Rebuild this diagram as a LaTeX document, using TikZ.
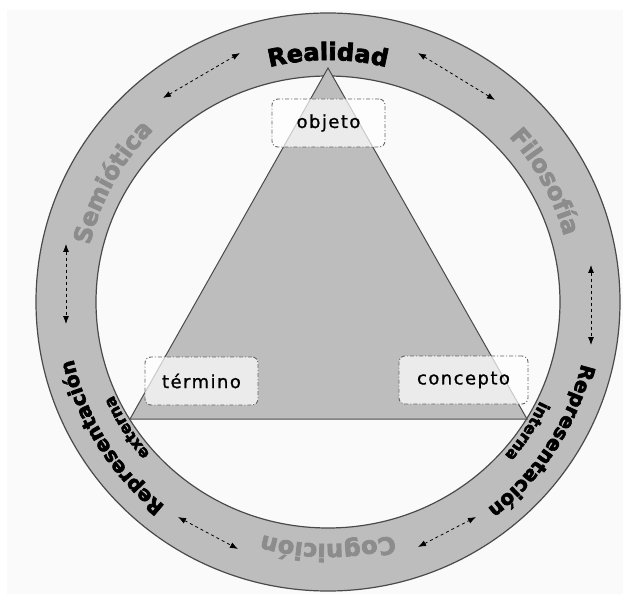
\documentclass[tikz,border=0pt]{standalone}
\usepackage{fontspec}
\usetikzlibrary{arrows.meta,decorations.text}
\newfontfamily\heavyfont{DejaVu Sans}[BoldFeatures={FakeBold=3}]
\newfontfamily\boxfont{DejaVu Sans}[LetterSpace=8, FakeBold=1]
\definecolor{ringgray}{HTML}{BDBDBD}
\definecolor{labelgray}{HTML}{8C8C8C}
\definecolor{edgegray}{HTML}{4A4A4A}
\definecolor{paper}{HTML}{FAFAFA}

\begin{document}
\begin{tikzpicture}[x=1pt,y=1pt,
    ringline/.style={draw=edgegray, line width=1.2pt},
    termbox/.style={draw=gray!80!black, line width=0.9pt,
      dash pattern=on 4pt off 2pt on 1pt off 2pt, rounded corners=6pt,
      fill=white, fill opacity=0.7, text opacity=1,
      font=\boxfont\fontsize{18}{18}\selectfont, minimum height=48pt},
    dbl/.style={dashed, line width=0.8pt,
      {Latex[length=8pt,width=6pt]}-{Latex[length=8pt,width=6pt]}},
    biglabel/.style={decorate, decoration={text along path, text align=center,
      text={|\heavyfont\bfseries\fontsize{24}{24}\selectfont|#1}}},
    graylabel/.style={biglabel=#1, decoration={text color=labelgray}},
    midlabel/.style={decorate, decoration={text along path, text align=center,
      text={|\heavyfont\bfseries\fontsize{20}{20}\selectfont|#1}}},
    smalllabel/.style={decorate, decoration={text along path, text align=center,
      text={|\heavyfont\bfseries\fontsize{16}{16}\selectfont|#1}}},
]
\useasboundingbox (-328,-292) rectangle (295,302);
\fill[paper] (-321,-292) rectangle (295,292);

% ring
\fill[ringgray, even odd rule] (0,0) ellipse [x radius=292pt, y radius=289pt]
  (0,0) ellipse [x radius=232pt, y radius=226pt];
\draw[ringline] (0,0) ellipse [x radius=292pt, y radius=289pt];
\draw[ringline] (0,0) ellipse [x radius=232pt, y radius=226pt];

% triangle
\coordinate (top) at (0,234);
\coordinate (left) at (-198,-117);
\coordinate (right) at (199,-117);
\draw[fill=ringgray, draw=edgegray, line width=1pt] (top) -- (left) -- (right) -- cycle;

\node[termbox, minimum width=113pt] (obj) at (0.5,179) {objeto};
\node[termbox, minimum width=113pt] (term) at (-126.5,-79) {término};
\node[termbox, minimum width=129pt] (conc) at (135.5,-78) {concepto};

% labels on the ring
\path[biglabel=Realidad] (130:242) arc[start angle=130, end angle=50, radius=242pt];
\path[graylabel=Filosofía] (69:245) arc[start angle=69, end angle=-11, radius=245pt];
\path[graylabel=Semiótica] (191:245) arc[start angle=191, end angle=111, radius=245pt];
\path[graylabel=Cognición] (310:242) arc[start angle=310, end angle=230, radius=242pt];
\path[midlabel=Representación] (262:261) arc[start angle=262, end angle=162, radius=261pt];
\path[smalllabel=externa] (252:234) arc[start angle=252, end angle=172, radius=234pt];
\path[midlabel=Representación] (377:261) arc[start angle=377, end angle=277, radius=261pt];
\path[smalllabel=interna] (367:234) arc[start angle=367, end angle=287, radius=234pt];

% arrows
\coordinate (tl1) at (-165,204);  \coordinate (tl2) at (-88,249);
\coordinate (tr1) at (90,249);    \coordinate (tr2) at (167,202);
\coordinate (l1) at (-262,58);    \coordinate (l2) at (-262,-22);
\coordinate (r1) at (263,37);     \coordinate (r2) at (263,-43);
\coordinate (bl1) at (-150,-215); \coordinate (bl2) at (-90,-247);
\coordinate (br1) at (90,-245);   \coordinate (br2) at (148,-215);
\foreach \a/\b in {tl1/tl2, tr1/tr2, l1/l2, r1/r2, bl1/bl2, br1/br2}
  \draw[dbl] (\a) -- (\b);
\end{tikzpicture}
\end{document}
